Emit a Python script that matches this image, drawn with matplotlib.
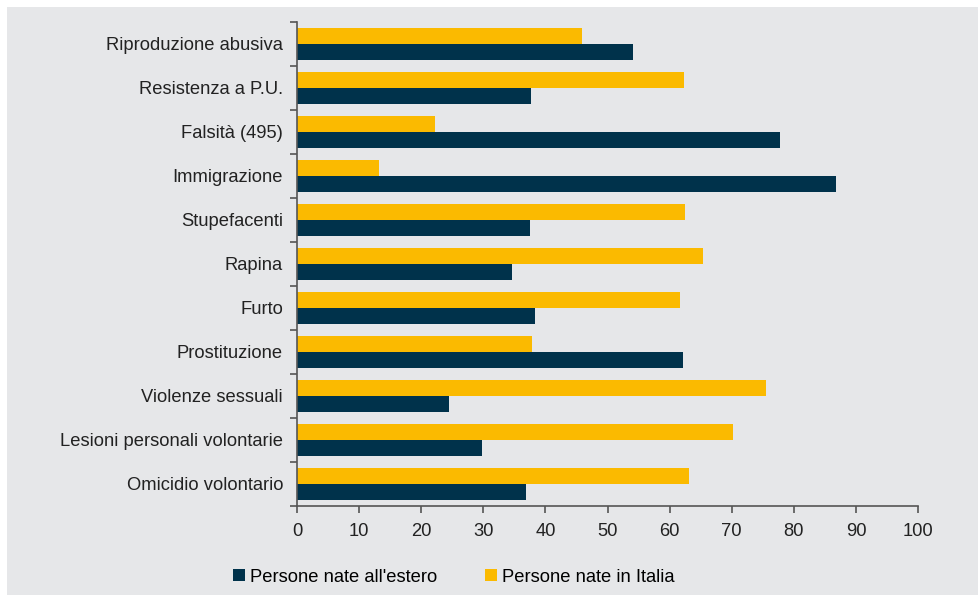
import matplotlib.pyplot as plt
from matplotlib.patches import Rectangle, Patch
import numpy as np

plt.rcParams['font.family'] = ['Liberation Sans', 'DejaVu Sans']

categories = ["Riproduzione abusiva", "Resistenza a P.U.", "Falsità (495)", "Immigrazione",
              "Stupefacenti", "Rapina", "Furto", "Prostituzione", "Violenze sessuali",
              "Lesioni personali volontarie", "Omicidio volontario"]
estero = [54.1, 37.7, 77.7, 86.8, 37.6, 34.6, 38.3, 62.1, 24.4, 29.8, 36.9]
italia = [45.9, 62.3, 22.3, 13.2, 62.4, 65.4, 61.7, 37.9, 75.6, 70.2, 63.1]
xticks = [0, 10, 20, 30, 40, 50, 60, 70, 80, 90, 100]

navy = '#00324B'
yellow = '#FBBA00'
grey = '#E6E7E9'
axis_col = '#555555'
fs = 13.2

fig = plt.figure(figsize=(9.79, 5.95), dpi=100, facecolor='white')
fig.patches.append(Rectangle((7 / 979, 0), 1 - 7 / 979, 1 - 7 / 595,
                             transform=fig.transFigure, facecolor=grey,
                             edgecolor='none', zorder=-10))

ax = fig.add_axes([297 / 979, 1 - 506 / 595, 621 / 979, 484 / 595])
ax.set_facecolor(grey)

y = np.arange(len(categories))
h = 0.36
ax.barh(y - h / 2, italia, height=h, color=yellow, label='Persone nate in Italia')
ax.barh(y + h / 2, estero, height=h, color=navy, label="Persone nate all'estero")

ax.set_xlim(0, 100)
ax.set_ylim(len(categories) - 0.5, -0.5)
ax.set_xticks(xticks)
ax.set_xticklabels([str(t) for t in xticks], fontsize=fs, color='#222222')
ax.set_yticks(y)
ax.set_yticklabels(categories, fontsize=fs, color='#222222')
ax.tick_params(axis='y', length=0, pad=10)
ax.set_yticks(np.arange(len(categories) + 1) - 0.5, minor=True)
ax.tick_params(axis='y', which='minor', length=5, color=axis_col, width=1.2)
ax.tick_params(axis='x', length=5, color=axis_col, width=1.2, pad=7)

for s in ['top', 'right']:
    ax.spines[s].set_visible(False)
for s in ['left', 'bottom']:
    ax.spines[s].set_color(axis_col)
    ax.spines[s].set_linewidth(1.2)

handles = [Patch(facecolor=navy, label="Persone nate all'estero"),
           Patch(facecolor=yellow, label='Persone nate in Italia')]
fig.legend(handles=handles, loc='center left', bbox_to_anchor=(233 / 979, 1 - 577 / 595),
           ncol=2, frameon=False, fontsize=fs, handlelength=0.65, handleheight=0.65,
           handletextpad=0.28, columnspacing=2.6, borderaxespad=0, borderpad=0)

fig.savefig('out.png', dpi=100, facecolor='white')
